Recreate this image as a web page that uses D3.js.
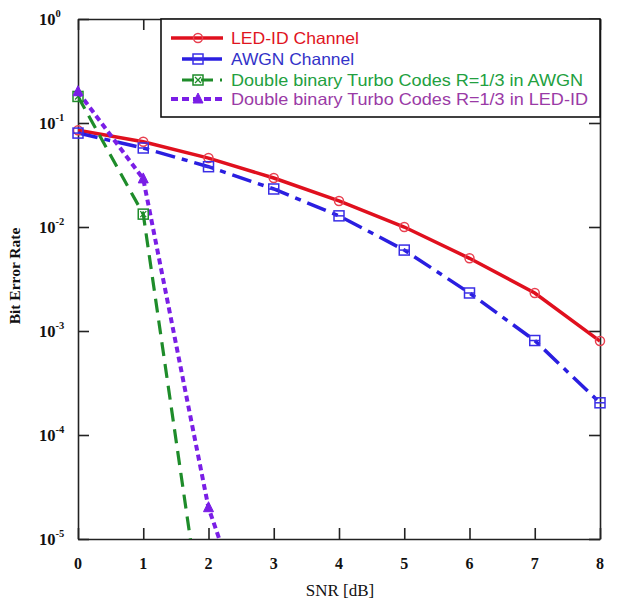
<!DOCTYPE html>
<html>
<head>
<meta charset="utf-8">
<script src="https://cdn.jsdelivr.net/npm/d3@7"></script>
<style>
html,body{margin:0;padding:0;background:#fff;}
svg{display:block;}
</style>
</head>
<body>
<script>
// ---- data ----
const snr = [0, 1, 2, 3, 4, 5, 6, 7, 8];
const ledId = [0.085, 0.066, 0.046, 0.0296, 0.0178, 0.0100, 0.0050, 0.00232, 0.0008];
const awgn = [0.080, 0.0575, 0.038, 0.0232, 0.0128, 0.0060, 0.00232, 0.00081, 0.000204];
const turboAwgnSnr = [0, 1, 2];
const turboAwgn = [0.18, 0.0133, 6.3e-7];
const turboLedSnr = [0, 1, 2, 3];
const turboLed = [0.20, 0.029, 2.0e-5, 3e-7];
const xTicks = [0, 1, 2, 3, 4, 5, 6, 7, 8];
const yTicks = [1, 0.1, 0.01, 0.001, 0.0001, 0.00001];
const yTickExp = ["0", "-1", "-2", "-3", "-4", "-5"];
const legendLabels = ["LED-ID Channel", "AWGN Channel",
  "Double binary Turbo Codes R=1/3 in AWGN", "Double binary Turbo Codes R=1/3 in LED-ID"];

const W = 619, H = 610;
const L = 78, R = 600, T = 19, B = 539;

const svg = d3.select("body").append("svg").attr("width", W).attr("height", H);
const x = d3.scaleLinear().domain([0, 8]).range([L, R]);
const y = d3.scaleLog().domain([1e-5, 1]).range([B, T]);

svg.append("defs").append("clipPath").attr("id", "plotclip")
  .append("rect").attr("x", L).attr("y", T).attr("width", R - L).attr("height", B - T);

const axisColor = "#222";
const gB = svg.append("g").attr("transform", `translate(0,${B})`)
  .call(d3.axisBottom(x).tickValues(xTicks).tickSizeInner(-11).tickSizeOuter(0).tickFormat(""));
const gT = svg.append("g").attr("transform", `translate(0,${T})`)
  .call(d3.axisTop(x).tickValues(xTicks).tickSizeInner(-11).tickSizeOuter(0).tickFormat(""));
const gL = svg.append("g").attr("transform", `translate(${L},0)`)
  .call(d3.axisLeft(y).tickValues(yTicks).tickSizeInner(-11).tickSizeOuter(0).tickFormat(""));
const gR = svg.append("g").attr("transform", `translate(${R},0)`)
  .call(d3.axisRight(y).tickValues(yTicks).tickSizeInner(-11).tickSizeOuter(0).tickFormat(""));
[gB, gT, gL, gR].forEach(g => {
  g.select(".domain").attr("stroke", axisColor).attr("stroke-width", 1.6);
  g.selectAll(".tick line").attr("stroke", axisColor).attr("stroke-width", 1.6);
});

const serif = "'Liberation Serif','Times New Roman',serif";
svg.append("g").selectAll("text").data(xTicks).join("text")
  .attr("x", d => x(d)).attr("y", 569)
  .attr("text-anchor", "middle")
  .attr("font-family", serif)
  .attr("font-weight", "bold").attr("font-size", 16).attr("fill", "#111")
  .text(d => d);

const yl = svg.append("g").selectAll("text").data(yTicks).join("text")
  .attr("x", 39).attr("y", d => y(d) + 6)
  .attr("font-family", serif)
  .attr("font-weight", "bold").attr("font-size", 16.5).attr("fill", "#111");
yl.append("tspan").text("10");
yl.append("tspan").attr("dy", -8).attr("font-size", 10.5).text((d, i) => yTickExp[i]);

svg.append("text")
  .attr("transform", `translate(20,276) rotate(-90)`)
  .attr("text-anchor", "middle")
  .attr("font-family", serif)
  .attr("font-weight", "bold").attr("font-size", 15.5).attr("fill", "#111")
  .text("Bit Error Rate");

svg.append("text")
  .attr("x", 340).attr("y", 596).attr("text-anchor", "middle")
  .attr("font-family", serif)
  .attr("font-size", 17).attr("fill", "#111")
  .text("SNR [dB]");

const series = [
  {xs: snr, ys: ledId, color: "#e0101e", mcolor: "#e84050", dash: null, width: 3.5, marker: "circle"},
  {xs: snr, ys: awgn, color: "#2a1ee0", mcolor: "#3a2ee6", dash: "20,7,6,7", width: 3.5, marker: "squareH"},
  {xs: turboAwgnSnr, ys: turboAwgn, color: "#1e8c2a", mcolor: "#1e8c2a", dash: "14,8", width: 3.2, marker: "squareX"},
  {xs: turboLedSnr, ys: turboLed, color: "#7a1ee6", mcolor: "#7a1ee6", dash: "6,4", width: 4, marker: "triangle"}
];

const line = d3.line().x(d => x(d[0])).y(d => y(d[1]));
const plot = svg.append("g").attr("clip-path", "url(#plotclip)");
const markers = svg.append("g");

function drawMarker(g, type, cx, cy, color) {
  if (type === "circle") {
    g.append("circle").attr("cx", cx).attr("cy", cy).attr("r", 4.5)
      .attr("fill", "none").attr("stroke", color).attr("stroke-width", 1.5);
  } else if (type === "squareH") {
    g.append("rect").attr("x", cx - 5).attr("y", cy - 5).attr("width", 10).attr("height", 10)
      .attr("fill", "none").attr("stroke", color).attr("stroke-width", 1.5);
    g.append("line").attr("x1", cx - 5).attr("x2", cx + 5).attr("y1", cy).attr("y2", cy)
      .attr("stroke", color).attr("stroke-width", 1.5);
  } else if (type === "squareX") {
    g.append("rect").attr("x", cx - 5).attr("y", cy - 5).attr("width", 10).attr("height", 10)
      .attr("fill", "none").attr("stroke", color).attr("stroke-width", 1.5);
    g.append("path").attr("d", `M${cx-3},${cy-3}L${cx+3},${cy+3}M${cx+3},${cy-3}L${cx-3},${cy+3}`)
      .attr("stroke", color).attr("stroke-width", 1.3);
  } else if (type === "triangle") {
    g.append("path").attr("d", `M${cx},${cy-6}L${cx+5},${cy+4}L${cx-5},${cy+4}Z`)
      .attr("fill", color).attr("stroke", color).attr("stroke-width", 1);
  }
}

series.forEach(s => {
  const pts = s.xs.map((v, i) => [v, s.ys[i]]);
  plot.append("path").datum(pts).attr("d", line)
    .attr("fill", "none").attr("stroke", s.color).attr("stroke-width", s.width)
    .attr("stroke-dasharray", s.dash);
});
series.forEach(s => {
  s.xs.forEach((v, i) => {
    if (s.ys[i] >= 1e-5) drawMarker(markers, s.marker, x(v), y(s.ys[i]), s.mcolor);
  });
});

// legend
const lg = svg.append("g");
lg.append("rect").attr("x", 161).attr("y", T).attr("width", R - 161).attr("height", 98)
  .attr("fill", "#fff").attr("stroke", "#111").attr("stroke-width", 1.6);
const rowsY = [38, 59, 80, 99];
const lineX = [[171, 223], [182, 222], [182, 222], [171, 223]];
const textColors = ["#e0141e", "#3232c8", "#22a040", "#9a3aa6"];
const textLens = [128, 123, 352, 357];
series.forEach((s, i) => {
  lg.append("line").attr("x1", lineX[i][0]).attr("x2", lineX[i][1])
    .attr("y1", rowsY[i]).attr("y2", rowsY[i])
    .attr("stroke", s.color).attr("stroke-width", s.width)
    .attr("stroke-dasharray", i === 3 ? "7,4" : (i === 2 ? "12,7" : null));
  drawMarker(lg, s.marker, 198, rowsY[i], s.mcolor);
  lg.append("text").attr("x", 231).attr("y", rowsY[i] + 6)
    .attr("font-family", "'Liberation Sans',Arial,sans-serif")
    .attr("font-size", 16.5).attr("fill", textColors[i])
    .attr("textLength", textLens[i]).attr("lengthAdjust", "spacingAndGlyphs")
    .text(legendLabels[i]);
});
</script>
</body>
</html>
